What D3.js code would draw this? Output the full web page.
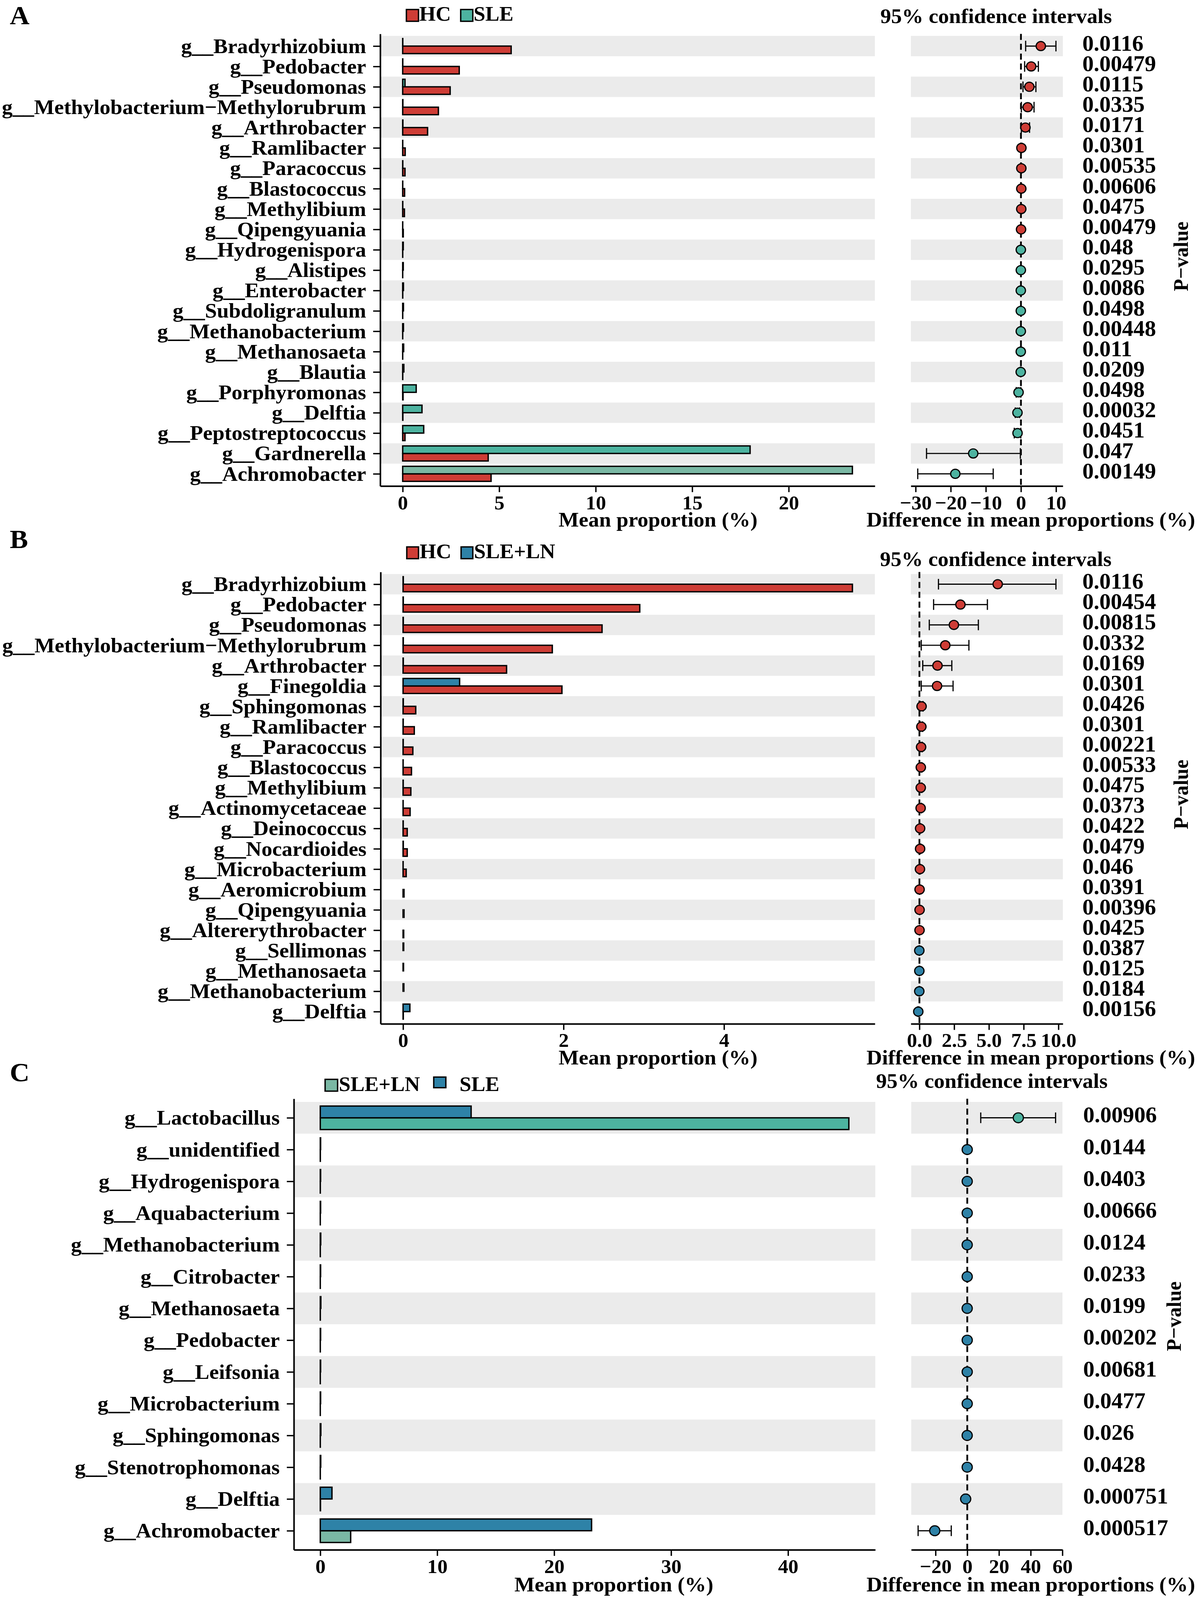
<!DOCTYPE html>
<html><head><meta charset="utf-8">
<script src="https://cdn.jsdelivr.net/npm/d3@7"></script>
<style>html,body{margin:0;padding:0;background:#fff;overflow:hidden}#chart{display:block;width:100vw;height:100vh}svg text{font-family:"Liberation Serif","Times New Roman",serif;font-weight:bold;fill:#000}</style>
</head><body>
<svg id="chart" viewBox="0 0 3071 4207" preserveAspectRatio="none"></svg>
<script>
// ---------- Panel A: HC vs SLE ----------
const catsA = ["g__Bradyrhizobium","g__Pedobacter","g__Pseudomonas","g__Methylobacterium\u2212Methylorubrum","g__Arthrobacter","g__Ramlibacter","g__Paracoccus","g__Blastococcus","g__Methylibium","g__Qipengyuania","g__Hydrogenispora","g__Alistipes","g__Enterobacter","g__Subdoligranulum","g__Methanobacterium","g__Methanosaeta","g__Blautia","g__Porphyromonas","g__Delftia","g__Peptostreptococcus","g__Gardnerella","g__Achromobacter"];
const hcA  = [5.62,2.93,2.46,1.85,1.29,0.13,0.12,0.10,0.09,0.03,0.002,0.001,0.003,0.002,0.001,0.001,0.003,0.02,0.01,0.12,4.43,4.58];
const sleA = [0.005,0.005,0.12,0.01,0.01,0.003,0.005,0.003,0.004,0.002,0.03,0.03,0.04,0.04,0.04,0.05,0.06,0.70,1.00,1.09,18.0,23.3];
const diffA = [5.66,2.92,2.39,1.92,1.28,0.13,0.11,0.10,0.09,0.03,-0.03,-0.03,-0.04,-0.04,-0.04,-0.05,-0.06,-0.68,-0.99,-0.97,-13.6,-18.7];
const loA   = [1.34,1.05,0.58,0.12,0.12,0.03,0.03,0.03,0.01,0.01,-0.05,-0.05,-0.07,-0.07,-0.07,-0.09,-0.11,-1.35,-1.62,-1.90,-26.9,-29.4];
const hiA   = [9.97,4.96,4.26,3.73,2.45,0.23,0.20,0.17,0.17,0.05,-0.01,-0.01,-0.01,-0.01,-0.01,-0.01,-0.01,-0.02,-0.36,-0.04,-0.17,-7.9];
const pA = ["0.0116","0.00479","0.0115","0.0335","0.0171","0.0301","0.00535","0.00606","0.0475","0.00479","0.048","0.0295","0.0086","0.0498","0.00448","0.011","0.0209","0.0498","0.00032","0.0451","0.047","0.00149"];
const groupsA = ["HC","SLE"];
const barTicksA = [0,5,10,15,20];
const ciTicksA = [-30,-20,-10,0,10];

// ---------- Panel B: HC vs SLE+LN ----------
const catsB = ["g__Bradyrhizobium","g__Pedobacter","g__Pseudomonas","g__Methylobacterium\u2212Methylorubrum","g__Arthrobacter","g__Finegoldia","g__Sphingomonas","g__Ramlibacter","g__Paracoccus","g__Blastococcus","g__Methylibium","g__Actinomycetaceae","g__Deinococcus","g__Nocardioides","g__Microbacterium","g__Aeromicrobium","g__Qipengyuania","g__Altererythrobacter","g__Sellimonas","g__Methanosaeta","g__Methanobacterium","g__Delftia"];
const hcB = [5.60,2.95,2.48,1.86,1.29,1.98,0.158,0.14,0.122,0.105,0.097,0.088,0.052,0.052,0.039,0.012,0.012,0.008,0.0,0.0,0.0,0.003];
const lnB = [0.003,0.003,0.003,0.003,0.003,0.705,0.003,0.002,0.002,0.001,0.002,0.001,0.002,0.003,0.001,0.0,0.0,0.0,0.008,0.006,0.010,0.085];
const diffB = [5.63,2.95,2.48,1.86,1.30,1.27,0.155,0.14,0.12,0.10,0.095,0.087,0.05,0.049,0.038,0.012,0.012,0.008,-0.008,-0.006,-0.01,-0.082];
const loB   = [1.37,1.02,0.71,0.13,0.24,0.13,0.05,0.05,0.04,0.03,0.02,0.02,0.01,0.01,0.01,0.002,0.002,0.001,-0.015,-0.011,-0.018,-0.12];
const hiB   = [9.82,4.89,4.24,3.56,2.33,2.42,0.26,0.23,0.20,0.17,0.17,0.15,0.09,0.09,0.07,0.022,0.022,0.015,-0.001,-0.001,-0.002,-0.04];
const pB = ["0.0116","0.00454","0.00815","0.0332","0.0169","0.0301","0.0426","0.0301","0.00221","0.00533","0.0475","0.0373","0.0422","0.0479","0.046","0.0391","0.00396","0.0425","0.0387","0.0125","0.0184","0.00156"];
const groupsB = ["HC","SLE+LN"];
const barTicksB = [0,2,4];
const ciTicksB = [0,2.5,5,7.5,10];

// ---------- Panel C: SLE+LN vs SLE ----------
const catsC = ["g__Lactobacillus","g__unidentified","g__Hydrogenispora","g__Aquabacterium","g__Methanobacterium","g__Citrobacter","g__Methanosaeta","g__Pedobacter","g__Leifsonia","g__Microbacterium","g__Sphingomonas","g__Stenotrophomonas","g__Delftia","g__Achromobacter"];
const lnC  = [45.2,0.005,0.002,0.001,0.002,0.001,0.003,0.002,0.001,0.001,0.003,0.002,0.02,2.6];
const sleC = [12.9,0.03,0.03,0.03,0.04,0.03,0.05,0.03,0.03,0.03,0.05,0.04,1.0,23.2];
const diffC = [32.2,-0.03,-0.03,-0.03,-0.04,-0.03,-0.05,-0.03,-0.03,-0.03,-0.05,-0.04,-1.0,-20.5];
const loC   = [8.5,-0.06,-0.06,-0.06,-0.07,-0.06,-0.09,-0.06,-0.06,-0.06,-0.09,-0.07,-2.0,-31.0];
const hiC   = [55.7,-0.005,-0.005,-0.005,-0.01,-0.005,-0.01,-0.005,-0.005,-0.005,-0.01,-0.01,-0.1,-10.1];
const pC = ["0.00906","0.0144","0.0403","0.00666","0.0124","0.0233","0.0199","0.00202","0.00681","0.0477","0.026","0.0428","0.000751","0.000517"];
const groupsC = ["SLE+LN","SLE"];
const barTicksC = [0,10,20,30,40];
const ciTicksC = [-20,0,20,40,60];

// ---------- drawing ----------
const RED = "#CE3D36", TEAL = "#4DB3A0", TEAL_LIGHT = "#7AB8A4", BLUE = "#2E82A7", BAND = "#EBEBEB";
const svg = d3.select("#chart");

function drawPanel(o) {
  const g = svg.append("g");
  const y = d3.scalePoint().domain(o.cats).range([o.yTop, o.yBot]).padding(0.6);
  const step = y.step();
  const allBars = o.g1.concat(o.g2);
  const xb = d3.scaleLinear().domain([-0.05 * d3.max(allBars), 1.05 * d3.max(allBars)]).range([o.barL, o.barR]);
  const ciMin = d3.min(o.lo), ciMax = d3.max(o.hi), ciW = ciMax - ciMin;
  const xc = d3.scaleLinear().domain([ciMin - 0.05 * ciW, ciMax + 0.05 * ciW]).range([o.ciL, o.ciR]);
  const tint = (c, col) => (c === o.lightCat && col === TEAL) ? TEAL_LIGHT : col;

  // alternating bands
  const odd = o.cats.filter((c, i) => i % 2 === 0);
  g.selectAll(".bandb").data(odd).join("rect")
    .attr("x", o.barL).attr("width", o.barR - o.barL)
    .attr("y", d => y(d) - step / 2).attr("height", step).attr("fill", BAND);
  g.selectAll(".bandc").data(odd).join("rect")
    .attr("x", o.ciL).attr("width", o.ciR - o.ciL)
    .attr("y", d => y(d) - step / 2).attr("height", step).attr("fill", BAND);

  // bars
  const bh = step * 0.37;
  const rows = o.cats.map((c, i) => ({c, a: o.g1[i], b: o.g2[i], d: o.diff[i], lo: o.lo[i], hi: o.hi[i], p: o.p[i]}));
  g.selectAll(".barlow").data(rows).join("rect")
    .attr("x", xb(0)).attr("y", d => y(d.c)).attr("height", bh)
    .attr("width", d => xb(d.a) - xb(0))
    .attr("fill", d => tint(d.c, o.c1)).attr("stroke", "#000").attr("stroke-width", 3.5);
  g.selectAll(".barhigh").data(rows).join("rect")
    .attr("x", xb(0)).attr("y", d => y(d.c) - bh).attr("height", bh)
    .attr("width", d => xb(d.b) - xb(0))
    .attr("fill", d => tint(d.c, o.c2)).attr("stroke", "#000").attr("stroke-width", 3.5);

  // bar panel axes
  const yAx = g.append("g").attr("transform", `translate(${o.barL},0)`)
    .call(d3.axisLeft(y).tickSize(18).tickPadding(18).tickSizeOuter(0));
  const xAx = g.append("g").attr("transform", `translate(0,${o.yBot})`)
    .call(d3.axisBottom(xb).tickValues(o.barTicks).tickFormat(d3.format("d")).tickSize(16).tickPadding(8).tickSizeOuter(0));
  [yAx, xAx].forEach(a => {
    a.attr("font-family", null);
    a.select(".domain").attr("stroke", "#000").attr("stroke-width", 4);
    a.selectAll(".tick line").attr("stroke", "#000").attr("stroke-width", 3.5);
  });
  yAx.selectAll("text").style("font-size", "55px");
  xAx.selectAll("text").style("font-size", "52px");

  // CI axis
  const cAx = g.append("g").attr("transform", `translate(0,${o.yBot})`)
    .call(d3.axisBottom(xc).tickValues(o.ciTicks).tickFormat(o.ciFmt).tickSize(16).tickPadding(8).tickSizeOuter(0));
  cAx.attr("font-family", null);
  cAx.select(".domain").attr("stroke", "#000").attr("stroke-width", 4);
  cAx.selectAll(".tick line").attr("stroke", "#000").attr("stroke-width", 3.5);
  cAx.selectAll("text").style("font-size", "52px");

  // zero dashed line
  g.append("line").attr("x1", xc(0)).attr("x2", xc(0)).attr("y1", o.yTop).attr("y2", o.yBot)
    .attr("stroke", "#000").attr("stroke-width", 4.5).attr("stroke-dasharray", "16,10");

  // error bars + points
  const cap = 14;
  const eb = g.selectAll(".eb").data(rows).join("g");
  eb.append("line").attr("x1", d => xc(d.lo)).attr("x2", d => xc(d.hi)).attr("y1", d => y(d.c)).attr("y2", d => y(d.c))
    .attr("stroke", "#000").attr("stroke-width", 3);
  eb.append("line").attr("x1", d => xc(d.lo)).attr("x2", d => xc(d.lo)).attr("y1", d => y(d.c) - cap).attr("y2", d => y(d.c) + cap)
    .attr("stroke", "#000").attr("stroke-width", 3);
  eb.append("line").attr("x1", d => xc(d.hi)).attr("x2", d => xc(d.hi)).attr("y1", d => y(d.c) - cap).attr("y2", d => y(d.c) + cap)
    .attr("stroke", "#000").attr("stroke-width", 3);
  eb.append("circle").attr("cx", d => xc(d.d)).attr("cy", d => y(d.c)).attr("r", o.r)
    .attr("fill", d => d.d > 0 ? o.c1 : o.c2).attr("stroke", "#000").attr("stroke-width", 3);

  // p-values
  g.selectAll(".pv").data(rows).join("text")
    .attr("x", o.pX).attr("y", d => y(d.c) + 12).style("font-size", "58px").text(d => d.p);
  g.append("text").attr("transform", `translate(${o.pvX},${o.pvY}) rotate(-90)`)
    .attr("text-anchor", "middle").style("font-size", "53px").text("P\u2212value");

  // titles
  g.append("text").attr("x", o.mpX).attr("y", o.titleY).attr("text-anchor", "middle").style("font-size", "55px").text("Mean proportion (%)");
  g.append("text").attr("x", 2638).attr("y", o.titleY).attr("text-anchor", "middle").style("font-size", "55px").text("Difference in mean proportions (%)");
  g.append("text").attr("x", o.ciTitleX).attr("y", o.ciTitleY).style("font-size", "55px").text("95% confidence intervals");
  g.append("text").attr("x", 25).attr("y", o.letterY).style("font-size", "70px").text(o.letter);

  // legend
  o.legend.forEach(L => {
    g.append("rect").attr("x", L.x).attr("y", L.y).attr("width", L.w).attr("height", L.h)
      .attr("fill", L.fill).attr("stroke", "#000").attr("stroke-width", 3.5);
    g.append("text").attr("x", L.tx).attr("y", L.ty).style("font-size", "54px").text(L.label);
  });
}

drawPanel({
  letter: "A", letterY: 64, cats: catsA, g1: hcA, g2: sleA, diff: diffA, lo: loA, hi: hiA, p: pA,
  c1: RED, c2: TEAL, lightCat: "g__Achromobacter", yTop: 89, yBot: 1278, barL: 973, barR: 2239, ciL: 2331, ciR: 2720,
  barTicks: barTicksA, ciTicks: ciTicksA, ciFmt: d3.format("d"), r: 12,
  pX: 2770, pvX: 3040, pvY: 674, titleY: 1385, mpX: 1684, ciTitleX: 2253, ciTitleY: 61,
  legend: [
    {x: 1040, y: 25, w: 31, h: 31, fill: RED, tx: 1073, ty: 54, label: groupsA[0]},
    {x: 1179, y: 25, w: 31, h: 31, fill: TEAL, tx: 1212, ty: 54, label: groupsA[1]}
  ]
});
drawPanel({
  letter: "B", letterY: 1441, cats: catsB, g1: hcB, g2: lnB, diff: diffB, lo: loB, hi: hiB, p: pB,
  c1: RED, c2: BLUE, lightCat: null, yTop: 1504, yBot: 2692, barL: 974, barR: 2239, ciL: 2331, ciR: 2720,
  barTicks: barTicksB, ciTicks: ciTicksB, ciFmt: d3.format(".1f"), r: 12,
  pX: 2770, pvX: 3040, pvY: 2089, titleY: 2799, mpX: 1684, ciTitleX: 2252, ciTitleY: 1488,
  legend: [
    {x: 1041, y: 1438, w: 30, h: 31, fill: RED, tx: 1074, ty: 1468, label: groupsB[0]},
    {x: 1180, y: 1438, w: 30, h: 31, fill: BLUE, tx: 1213, ty: 1468, label: groupsB[1]}
  ]
});
drawPanel({
  letter: "C", letterY: 2843, cats: catsC, g1: lnC, g2: sleC, diff: diffC, lo: loC, hi: hiC, p: pC,
  c1: TEAL, c2: BLUE, lightCat: "g__Achromobacter", yTop: 2889, yBot: 4075, barL: 752, barR: 2240, ciL: 2332, ciR: 2719,
  barTicks: barTicksC, ciTicks: ciTicksC, ciFmt: d3.format("d"), r: 13,
  pX: 2772, pvX: 3022, pvY: 3461, titleY: 4184, mpX: 1571, ciTitleX: 2242, ciTitleY: 2860,
  legend: [
    {x: 832, y: 2838, w: 32, h: 31, fill: TEAL_LIGHT, tx: 867, ty: 2869, label: groupsC[0]},
    {x: 1110, y: 2832, w: 31, h: 28, fill: BLUE, tx: 1176, ty: 2869, label: groupsC[1]}
  ]
});
</script>
</body></html>
